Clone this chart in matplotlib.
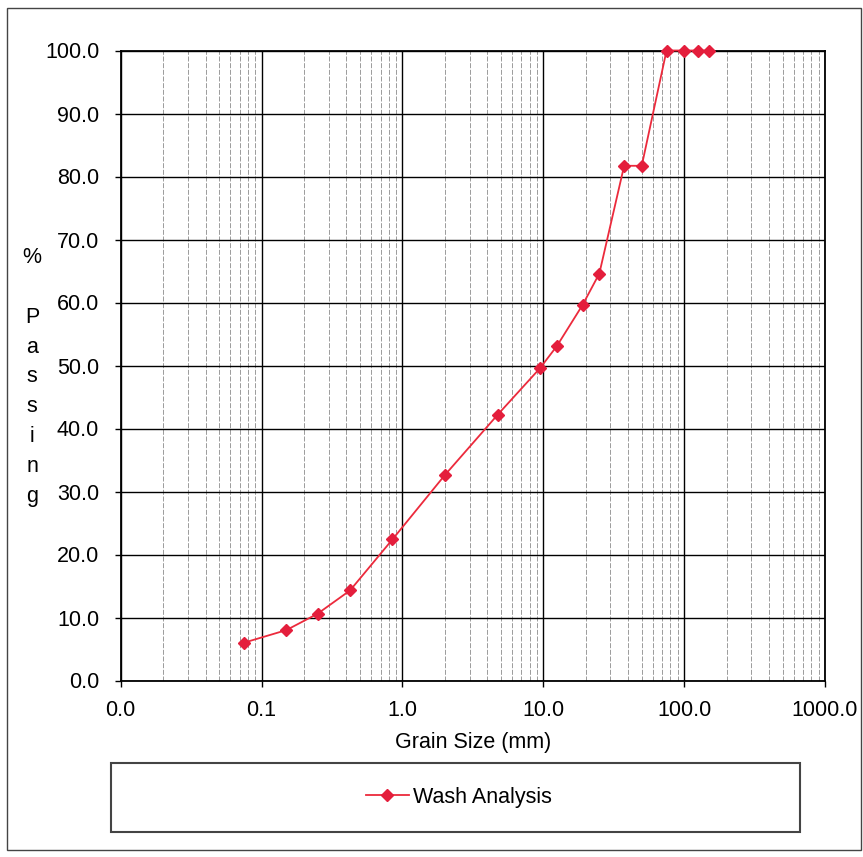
import numpy as np
import matplotlib
matplotlib.use("Agg")
import matplotlib.pyplot as plt
from matplotlib.patches import Rectangle
from matplotlib.ticker import FixedLocator, LogLocator, FuncFormatter, NullFormatter

# sieve data
grain_size = [0.075, 0.15, 0.25, 0.425, 0.85, 2.0, 4.75, 9.5, 12.5, 19.0,
              25.0, 37.5, 50.0, 75.0, 100.0, 125.0, 150.0]
percent_passing = [6.0, 8.0, 10.6, 14.3, 22.4, 32.6, 42.2, 49.6, 53.1, 59.6,
                   64.6, 81.7, 81.7, 100.0, 100.0, 100.0, 100.0]
x_ticks = [0.01, 0.1, 1, 10, 100, 1000]
y_ticks = list(range(0, 101, 10))
series_name = 'Wash Analysis'

plt.rcParams['font.family'] = ['Liberation Sans', 'DejaVu Sans']

W, H = 863, 857
fig = plt.figure(figsize=(W / 100, H / 100), dpi=100)


def fx(px):
    return px / W


def fy(py):
    return 1 - py / H


# outer chart frame
fig.patches.append(Rectangle((fx(7), fy(850)), fx(861) - fx(7), fy(8) - fy(850),
                             transform=fig.transFigure, fill=False,
                             edgecolor='#444444', lw=1.0))

ax = fig.add_axes([fx(120.7), fy(680.5), fx(825) - fx(120.7), fy(50.5) - fy(680.5)])
ax.set_xscale('log')
ax.set_xlim(0.01, 1000)
ax.set_ylim(0, 100)

ax.xaxis.set_major_locator(FixedLocator(x_ticks))
ax.xaxis.set_major_formatter(FuncFormatter('{:.1f}'.format))
ax.xaxis.set_minor_locator(LogLocator(base=10, subs=np.arange(2, 10)))
ax.xaxis.set_minor_formatter(NullFormatter())
ax.yaxis.set_major_locator(FixedLocator(y_ticks))
ax.yaxis.set_major_formatter(FuncFormatter('{:.1f}'.format))

ax.set_axisbelow(True)
ax.grid(True, which='major', axis='both', color='black', lw=1.0)
ax.grid(True, which='minor', axis='x', color='#8c8c8c', lw=0.6, ls=(0, (6, 2)))

for s in ax.spines.values():
    s.set_linewidth(1.3)
    s.set_color('black')

ax.tick_params(axis='both', which='major', direction='out', length=4.5, width=1.0,
               labelsize=15.5, colors='black')
ax.tick_params(axis='x', which='major', pad=9.5)
ax.tick_params(axis='y', which='major', pad=11)
ax.tick_params(axis='x', which='minor', length=0)

line, = ax.plot(grain_size, percent_passing, color='#ec2a3c', lw=1.3,
                marker='D', ms=6.5, mfc='#e41e3c', mec='#e41e3c',
                label=series_name, clip_on=False, zorder=5)

ax.set_xlabel('Grain Size (mm)', fontsize=15.5, labelpad=8)

fig.text(fx(32), fy(377), '%\n\nP\na\ns\ns\ni\nn\ng', ha='center', va='center',
         multialignment='center', fontsize=15.5, linespacing=1.55)

# legend box
fig.patches.append(Rectangle((fx(111), fy(832)), fx(800) - fx(111), fy(763) - fy(832),
                             transform=fig.transFigure, fill=False,
                             edgecolor='#444444', lw=1.5))
fig.legend(handles=[line], loc='center', bbox_to_anchor=(fx(459), fy(797)),
           frameon=False, fontsize=15.5, handlelength=2.0, handletextpad=0.2)

fig.savefig('out.png', dpi=100)
